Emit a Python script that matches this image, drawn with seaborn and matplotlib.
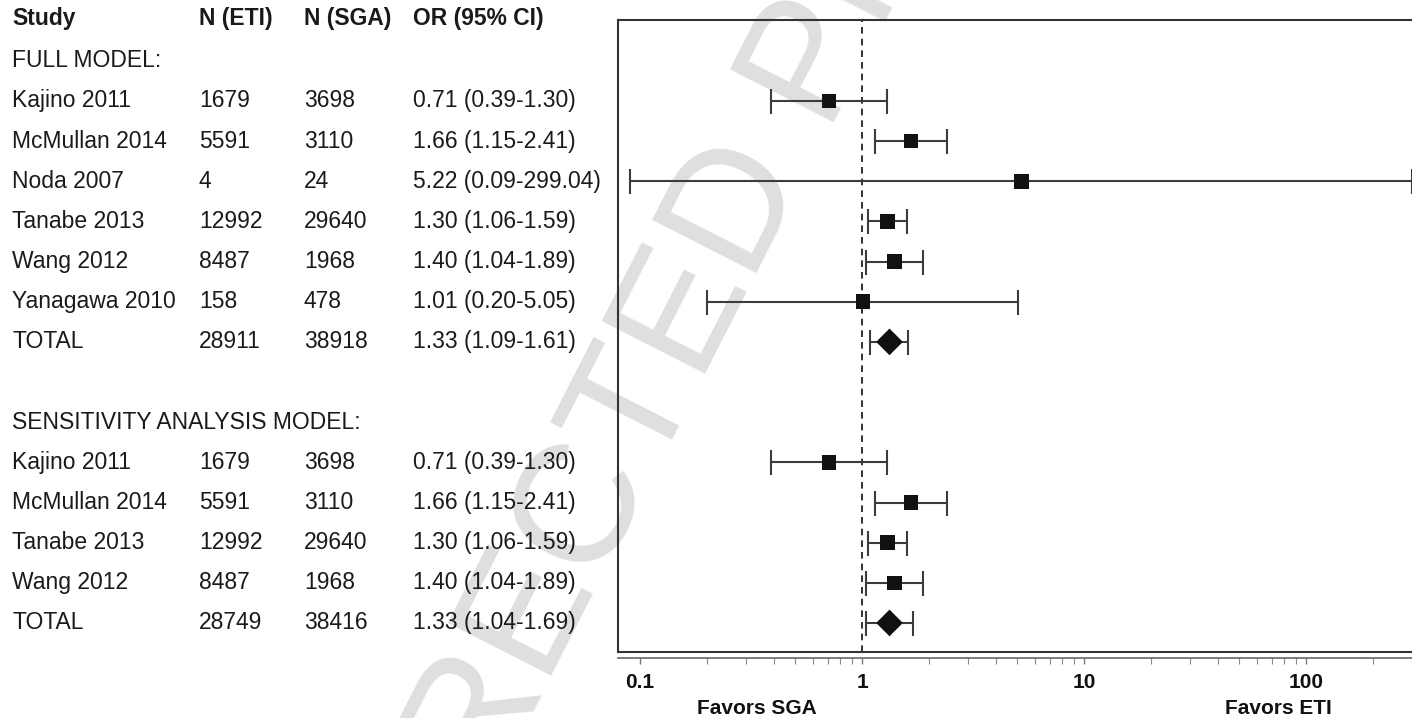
import numpy as np
import pandas as pd
import matplotlib
matplotlib.use("Agg")
import matplotlib.pyplot as plt
import matplotlib.transforms as mtransforms
from matplotlib.ticker import NullFormatter, FixedLocator, FixedFormatter
import seaborn as sns

# ---------------- data ----------------
studies = ["Kajino 2011", "McMullan 2014", "Noda 2007", "Tanabe 2013", "Wang 2012",
           "Yanagawa 2010", "TOTAL",
           "Kajino 2011", "McMullan 2014", "Tanabe 2013", "Wang 2012", "TOTAL"]
n_eti = [1679, 5591, 4, 12992, 8487, 158, 28911, 1679, 5591, 12992, 8487, 28749]
n_sga = [3698, 3110, 24, 29640, 1968, 478, 38918, 3698, 3110, 29640, 1968, 38416]
odds = [0.71, 1.66, 5.22, 1.30, 1.40, 1.01, 1.33, 0.71, 1.66, 1.30, 1.40, 1.33]
ci_lo = [0.39, 1.15, 0.09, 1.06, 1.04, 0.20, 1.09, 0.39, 1.15, 1.06, 1.04, 1.04]
ci_hi = [1.30, 2.41, 299.04, 1.59, 1.89, 5.05, 1.61, 1.30, 2.41, 1.59, 1.89, 1.69]
kind = ["study"] * 6 + ["total"] + ["study"] * 4 + ["total"]
row = [2, 3, 4, 5, 6, 7, 8, 11, 12, 13, 14, 15]
section_labels = ["FULL MODEL:", "SENSITIVITY ANALYSIS MODEL:"]
section_rows = [1, 10]
headers = ["Study", "N (ETI)", "N (SGA)", "OR (95% CI)"]
tick_values = [0.1, 1, 10, 100]
tick_labels = ["0.1", "1", "10", "100"]

df = pd.DataFrame({"study": studies, "n_eti": n_eti, "n_sga": n_sga, "odds": odds,
                   "lo": ci_lo, "hi": ci_hi, "kind": kind, "row": row})

# ---------------- style ----------------
sns.set_style("white")
plt.rcParams["font.family"] = ["Liberation Sans", "DejaVu Sans"]

W, H = 1412, 718
fig = plt.figure(figsize=(W / 100, H / 100), dpi=100)

# axes in pixel layout
ax_left, ax_right, ax_top, ax_bot = 618, 1420, 20, 652
ax = fig.add_axes([ax_left / W, 1 - ax_bot / H, (ax_right - ax_left) / W, (ax_bot - ax_top) / H])
ax.patch.set_alpha(0)

ax.set_xscale("log")
dec = 222.0
x_one = 862
ax.set_xlim(10 ** (-(x_one - ax_left) / dec), 10 ** ((ax_right - x_one) / dec))
row_y0, row_dy = 20.7, 40.15
ax.set_ylim((ax_bot - row_y0) / row_dy, (ax_top - row_y0) / row_dy)

# watermark
fig.text(672 / W, 1 - 345 / H, "CORRECTED PROOF", rotation=63, ha="center", va="center",
         fontsize=122, color="#dfdfdf", zorder=-5)

# reference line
ax.axvline(1, color="#111111", lw=1.2, ls=(0, (4, 3)), zorder=1)

# confidence intervals
ax.errorbar(df["odds"], df["row"],
            xerr=[df["odds"] - df["lo"], df["hi"] - df["odds"]],
            fmt="none", ecolor="#3c3c3c", elinewidth=1.5, capsize=9, capthick=1.5, zorder=2)

# point estimates
st = df[df["kind"] == "study"]
tt = df[df["kind"] == "total"]
sns.scatterplot(data=st, x="odds", y="row", marker="s", s=110, color="#111111",
                edgecolor="none", linewidth=0, ax=ax, zorder=3, legend=False)
sns.scatterplot(data=tt, x="odds", y="row", marker="D", s=185, color="#111111",
                edgecolor="none", linewidth=0, ax=ax, zorder=3, legend=False)

ax.set_xlabel("")
ax.set_ylabel("")
ax.set_yticks([])

# spines: box plus a separate axis line just below it
for s in ["top", "left", "bottom", "right"]:
    ax.spines[s].set_visible(True)
    ax.spines[s].set_color("#333333")
    ax.spines[s].set_linewidth(1.5)
ax.spines["bottom"].set_position(("outward", 4))
ax.spines["bottom"].set_color("#666666")
ax.spines["bottom"].set_linewidth(1.2)
ax.plot([0, 1], [0, 0], transform=ax.transAxes, color="#333333", lw=1.5,
        clip_on=False, zorder=4)

minor_ticks = [m * d for d in tick_values for m in range(2, 10)]
ax.xaxis.set_major_locator(FixedLocator(tick_values))
ax.xaxis.set_major_formatter(FixedFormatter(tick_labels))
ax.xaxis.set_minor_locator(FixedLocator(minor_ticks))
ax.xaxis.set_minor_formatter(NullFormatter())
ax.tick_params(axis="x", which="major", direction="out", length=4, width=1.0,
               colors="#777777", labelcolor="#111111", labelsize=15, pad=7, bottom=True)
ax.tick_params(axis="x", which="minor", direction="out", length=4, width=0.8,
               colors="#888888", bottom=True)
for lab in ax.get_xticklabels():
    lab.set_fontweight("bold")

# favors labels
fig.text(757 / W, 1 - 708 / H, "Favors SGA", ha="center", va="center",
         fontsize=15, fontweight="bold", color="#111111")
fig.text(1278 / W, 1 - 708 / H, "Favors ETI", ha="center", va="center",
         fontsize=15, fontweight="bold", color="#111111")

# table text
trans = mtransforms.blended_transform_factory(fig.transFigure, ax.transData)
col_x = [12, 199, 304, 413]
tcolor = "#1a1a1a"
fs = 16.5
for cx, h in zip(col_x, headers):
    ax.text(cx / W, -0.05, h, transform=trans, ha="left", va="center",
            fontsize=fs, fontweight="bold", color=tcolor, clip_on=False)
for lab, r in zip(section_labels, section_rows):
    ax.text(col_x[0] / W, r, lab, transform=trans, ha="left", va="center",
            fontsize=fs, color=tcolor, clip_on=False)
for _, rr in df.iterrows():
    ci_txt = f"{rr['odds']:.2f} ({rr['lo']:.2f}-{rr['hi']:.2f})"
    for cx, t in zip(col_x, [rr["study"], str(rr["n_eti"]), str(rr["n_sga"]), ci_txt]):
        ax.text(cx / W, rr["row"], t, transform=trans, ha="left", va="center",
                fontsize=fs, color=tcolor, clip_on=False)

fig.savefig("out.png", dpi=100, facecolor="white")
